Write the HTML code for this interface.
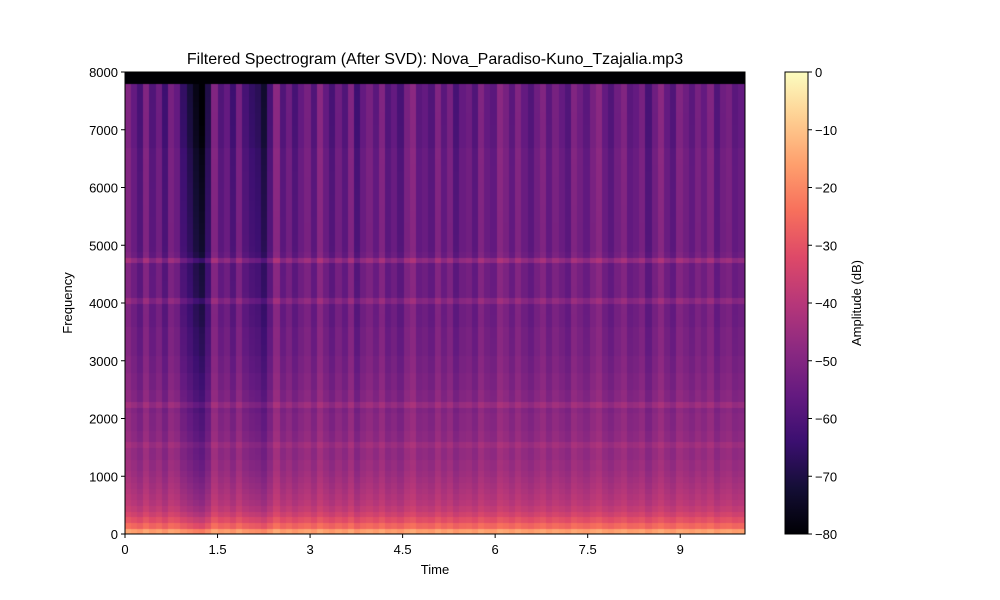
<!DOCTYPE html>
<html><head><meta charset="utf-8"><style>
body{margin:0;background:#fff;font-family:"Liberation Sans",sans-serif;}
#wrap{position:relative;width:1000px;height:600px;}
canvas{position:absolute;}
</style></head><body>
<div id="wrap">
<canvas id="spec" width="620" height="462" style="left:125px;top:72px"></canvas>
<svg id="ov" width="1000" height="600" style="position:absolute;left:0;top:0">
<defs><linearGradient id="mg" x1="0" y1="1" x2="0" y2="0">
<stop offset="0" stop-color="#000004"/><stop offset="0.1" stop-color="#140e36"/><stop offset="0.2" stop-color="#3b0f70"/><stop offset="0.3" stop-color="#641a80"/><stop offset="0.4" stop-color="#8c2981"/><stop offset="0.5" stop-color="#b73779"/><stop offset="0.6" stop-color="#de4968"/><stop offset="0.7" stop-color="#f7705c"/><stop offset="0.8" stop-color="#fe9f6d"/><stop offset="0.9" stop-color="#fecf92"/><stop offset="1" stop-color="#fcfdbf"/></linearGradient></defs>
<text x="435" y="64" font-size="16" text-anchor="middle">Filtered Spectrogram (After SVD): Nova_Paradiso-Kuno_Tzajalia.mp3</text>
<rect x="125" y="72" width="620" height="462" fill="none" stroke="#000" stroke-width="1"/>
<g id="xt"></g>
<g id="yt"></g>
<text x="435" y="574" font-size="13" text-anchor="middle">Time</text>
<text x="72" y="303" font-size="13" text-anchor="middle" transform="rotate(-90 72 303)">Frequency</text>
<rect x="785" y="72" width="23" height="462" fill="url(#mg)" stroke="#000" stroke-width="1"/>
<g id="ct"></g>
<text x="861" y="303" font-size="13" text-anchor="middle" transform="rotate(-90 861 303)">Amplitude (dB)</text>
</svg>
</div>
<script>
const xTicks=[0,1.5,3,4.5,6,7.5,9];
const xTickLabels=["0","1.5","3","4.5","6","7.5","9"];
const yTicks=[0,1000,2000,3000,4000,5000,6000,7000,8000];
const cTicks=[0,-10,-20,-30,-40,-50,-60,-70,-80];
const cTickLabels=["0","−10","−20","−30","−40","−50","−60","−70","−80"];
const tMax=10.05, fMax=8000, dbMin=-80, dbMax=0;
// column level offsets (dB), 0.1 s bins
const colLevels=[3,0,-3,3,-2,1,-4,2,0,-5,-8,-11,-13,-7,3,-2,0,-4,2,-3,-5,-6,-9,-3,4,-2,1,-3,0,2,
 -2,4,0,-3,1,-2,3,-4,0,2,-1,3,-2,0,-3,2,4,-1,0,-2,3,-1,2,-3,0,1,-2,3,0,-1,
 4,2,-1,3,0,-2,1,3,-1,2,0,-2,3,1,-1,2,4,0,-2,1,3,-1,0,2,-3,1,4,0,-2,3,1,-1,2,0,3,-2,1,2,-1,0];
// frequency profile (dB), 100 Hz bins
const rowProfile=[-16,-26,-31,-35,-38,-40,-41,-42,-43,-44,-45,-46,-46,-47,-47,-45,-48,-48,-49,-49,
 -49,-50,-46,-50,-50,-51,-51,-51,-52,-52,-52,-53,-53,-53,-53,-53,-54,-54,-54,-54,
 -49,-54,-54,-54,-54,-54,-54,-47,-54,-55,-55,-55,-55,-55,-55,-55,-55,-55,-55,-55,
 -55,-55,-55,-55,-55,-55,-55,-56,-56,-56,-56,-56,-56,-56,-56,-56,-56,-56,-80,-80];
const stops=[[0,0,4],[20,14,54],[59,15,112],[100,26,128],[140,41,129],[183,55,121],[222,73,104],[247,112,92],[254,159,109],[254,207,146],[252,253,191]];
function magma(v){v=Math.max(0,Math.min(1,v));const p=v*10,i=Math.min(9,Math.floor(p)),t=p-i;const a=stops[i],b=stops[i+1];return `rgb(${a.map((c,k)=>Math.round(c+(b[k]-c)*t)).join(',')})`;}
const W=620,H=462;
const xs=t=>t/tMax*W, ys=f=>H-f/fMax*H;
const ctx=document.getElementById('spec').getContext('2d');
const dt=tMax/colLevels.length, df=fMax/rowProfile.length;
colLevels.forEach((c,i)=>{rowProfile.forEach((r,j)=>{
 const f=j*df; let v=r+c*(0.5+f/fMax*1.5); if(r<=-80)v=-80;
 ctx.fillStyle=magma((v-dbMin)/(dbMax-dbMin));
 const x0=xs(i*dt),x1=xs((i+1)*dt),y0=ys((j+1)*df),y1=ys(j*df);
 ctx.fillRect(Math.floor(x0),Math.floor(y0),Math.ceil(x1-x0)+1,Math.ceil(y1-y0)+1);
});});
const NS='http://www.w3.org/2000/svg';
function mk(g,tag,at,txt){const e=document.createElementNS(NS,tag);for(const k in at)e.setAttribute(k,at[k]);if(txt!==undefined)e.textContent=txt;g.appendChild(e);return e;}
const xg=document.getElementById('xt');
xTicks.forEach((t,i)=>{const x=125+xs(t);
 const l=mk(xg,'line',{x1:x,x2:x,y1:534,y2:538,stroke:'#000'});
 
 
 const s=mk(xg,'text',{x:x,y:554,'font-size':13,'text-anchor':'middle'},xTickLabels[i]);
 
 });
const yg=document.getElementById('yt');
yTicks.forEach(f=>{const y=72+ys(f);
 const l=mk(yg,'line',{x1:121,x2:125,y1:y,y2:y,stroke:'#000'});
 
 
 const s=mk(yg,'text',{x:118,y:y+5,'font-size':13,'text-anchor':'end'},String(f));
 
 });
const cg=document.getElementById('ct');
cTicks.forEach((c,i)=>{const y=72+(dbMax-c)/(dbMax-dbMin)*H;
 const l=mk(cg,'line',{x1:808,x2:812,y1:y,y2:y,stroke:'#000'});
 
 
 const s=mk(cg,'text',{x:815,y:y+5,'font-size':13},cTickLabels[i]);
 
 });
</script>
</body></html>
